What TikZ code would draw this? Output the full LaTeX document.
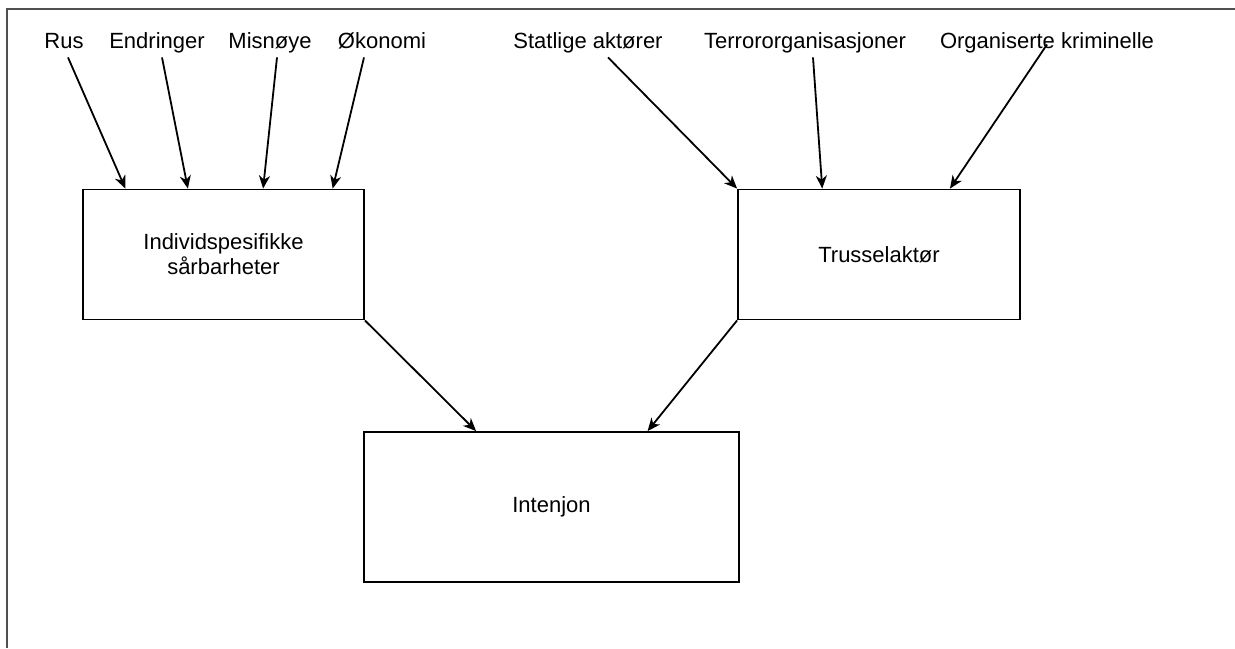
\documentclass[tikz,border=0pt]{standalone}
\usepackage{fontspec}
\setmainfont{Liberation Sans}
\usetikzlibrary{arrows.meta,calc}
\definecolor{frameGray}{RGB}{80,80,80}

\begin{document}
\begin{tikzpicture}[x=0.5pt,y=-0.5pt,every node/.style={font=\fontsize{11}{12.5}\selectfont}]
        \tikzstyle{factorNode}=[inner sep=2pt,text height=8pt,text depth=2.5pt,anchor=base]
        \tikzstyle{boxNode}=[draw,line width=0.9pt,align=center,minimum height=65pt,inner sep=0pt]
        \tikzstyle{causalArrow}=[-{Stealth[length=6.5pt,width=5.5pt,inset=2pt]}, line width=0.9pt]
    \useasboundingbox (0,0) rectangle (1235,648);
    \draw[frameGray, line width=1pt] (7,648) -- (7,9) -- (1235,9);

    \node[boxNode,minimum width=140.5pt] (ind) at (223.5,254.5) {Individspesifikke\\sårbarheter};
    \node[boxNode,minimum width=141pt] (trus) at (879,254.5) {Trusselaktør};
    \node[boxNode,minimum width=187.5pt,minimum height=75pt] (int) at (551.5,507) {Intenjon};

    \node[factorNode] (rus) at (64,48) {Rus};
    \node[factorNode] (endr) at (157,48) {Endringer};
    \node[factorNode] (misn) at (270,48) {Misnøye};
    \node[factorNode] (okon) at (382,48) {Økonomi};
    \node[factorNode] (stat) at (588,48) {Statlige aktører};
    \node[factorNode] (terr) at (805,48) {Terrororganisasjoner};
    \node[factorNode] (org) at (1047,48) {Organiserte kriminelle};

    \draw[causalArrow] ([xshift=2pt]rus.south) -- ($(ind.north west)!.153!(ind.north east)$);
    \draw[causalArrow] ([xshift=2.5pt]endr.south) -- ($(ind.north west)!.374!(ind.north east)$);
    \draw[causalArrow] ([xshift=3.5pt]misn.south) -- ($(ind.north west)!.64!(ind.north east)$);
    \draw[causalArrow] ([xshift=-9pt]okon.south) -- ($(ind.north west)!.886!(ind.north east)$);

    \draw[causalArrow] ([xshift=10pt]stat.south) -- (trus.north west);
    \draw[causalArrow] ([xshift=4pt]terr.south) -- ($(trus.north west)!.30!(trus.north east)$);
    \draw[causalArrow] ([yshift=-1pt]org.center) -- ($(trus.north west)!.75!(trus.north east)$);

    \draw[causalArrow] (ind.south east) -- ($(int.north west)!.30!(int.north east)$);
    \draw[causalArrow] (trus.south west) -- ($(int.north west)!.755!(int.north east)$);
    \end{tikzpicture}
\end{document}
